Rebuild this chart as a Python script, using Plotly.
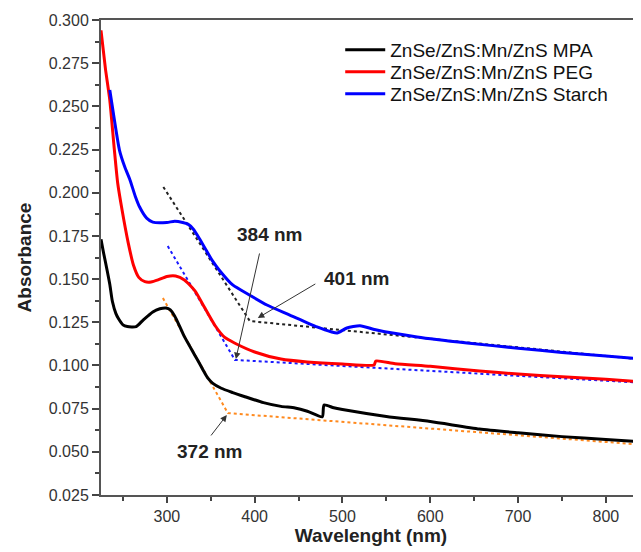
import plotly.graph_objects as go

# ---- data ----
mpa_x = [225, 228, 232, 235, 238, 242, 245, 250, 255, 265, 273, 284, 292, 299, 304, 309, 315, 320, 326, 332, 338, 343, 347, 352, 362, 375, 389, 410, 430, 446, 460, 477, 479, 490, 500, 550, 600, 656, 700, 750, 800, 840]
mpa_y = [0.173, 0.165, 0.155, 0.147, 0.137, 0.130, 0.127, 0.1235, 0.1225, 0.1225, 0.1263, 0.131, 0.1328, 0.1333, 0.1322, 0.1285, 0.1222, 0.1167, 0.1112, 0.1058, 0.1004, 0.0958, 0.0925, 0.0898, 0.0868, 0.0843, 0.0819, 0.0785, 0.0763, 0.0754, 0.0735, 0.0703, 0.0771, 0.0755, 0.0745, 0.0705, 0.0675, 0.0632, 0.061, 0.0588, 0.0572, 0.0558]

peg_x = [225, 230, 235, 240, 244, 249, 256, 262, 268, 275, 282, 290, 300, 310, 320, 332, 343, 355, 366, 377, 400, 430, 460, 500, 536, 538, 560, 600, 656, 700, 750, 800, 840]
peg_y = [0.294, 0.272, 0.2537, 0.226, 0.2056, 0.190, 0.171, 0.158, 0.151, 0.1485, 0.1483, 0.1495, 0.1515, 0.1518, 0.1495, 0.1432, 0.1335, 0.1230, 0.1162, 0.113, 0.1078, 0.1037, 0.102, 0.1008, 0.1003, 0.1026, 0.101, 0.0995, 0.0968, 0.095, 0.0935, 0.092, 0.0906]

starch_x = [235, 240, 246, 252, 258, 264, 269, 277, 284, 300, 309, 318, 324, 330, 337, 345, 352, 360, 375, 394, 414, 440, 471, 487, 494, 505, 520, 539, 585, 642, 700, 750, 800, 840]
starch_y = [0.2595, 0.243, 0.2247, 0.215, 0.2074, 0.198, 0.1917, 0.1853, 0.183, 0.1828, 0.1835, 0.1828, 0.1818, 0.1790, 0.1735, 0.1665, 0.1605, 0.1550, 0.1466, 0.1408, 0.135, 0.1292, 0.1223, 0.1195, 0.1188, 0.1217, 0.1230, 0.1205, 0.1165, 0.113, 0.110, 0.1075, 0.1055, 0.1037]

# tangent (band-edge) construction lines
tan_starch_x = [296, 394.5, 830]
tan_starch_y = [0.2033, 0.1257, 0.104]
tan_peg_x = [301, 377.5, 840]
tan_peg_y = [0.1691, 0.1032, 0.090]
tan_mpa_x = [295.5, 369.5, 831]
tan_mpa_y = [0.139, 0.0724, 0.0545]

series_names = ["ZnSe/ZnS:Mn/ZnS MPA", "ZnSe/ZnS:Mn/ZnS PEG", "ZnSe/ZnS:Mn/ZnS Starch"]

labels = ["384 nm", "401 nm", "372 nm"]
label_pos = [(417, 0.1761), (516, 0.1506), (349, 0.0499)]
arrow_tips = [(378.6, 0.1037), (403.6, 0.1275), (368.3, 0.0713)]
arrow_tails = [(405.9, 0.1657), (470.8, 0.1477), (349, 0.0586)]

x_ticks = [300, 400, 500, 600, 700, 800]
y_ticks = [0.025, 0.050, 0.075, 0.100, 0.125, 0.150, 0.175, 0.200, 0.225, 0.250, 0.275, 0.300]

FONT = "Arial, Liberation Sans, sans-serif"

fig = go.Figure()
fig.add_trace(go.Scatter(x=tan_starch_x, y=tan_starch_y, mode="lines",
                         line=dict(color="#222222", width=2, dash="dot"), showlegend=False))
fig.add_trace(go.Scatter(x=tan_peg_x, y=tan_peg_y, mode="lines",
                         line=dict(color="#1a1aff", width=2, dash="dot"), showlegend=False))
fig.add_trace(go.Scatter(x=tan_mpa_x, y=tan_mpa_y, mode="lines",
                         line=dict(color="#ff8a1f", width=2, dash="dot"), showlegend=False))

sm = dict(shape="spline", smoothing=0.6)
fig.add_trace(go.Scatter(x=mpa_x, y=mpa_y, mode="lines", name=series_names[0], legend="legend",
                         line=dict(color="#000000", width=3, **sm)))
fig.add_trace(go.Scatter(x=peg_x, y=peg_y, mode="lines", name=series_names[1], legend="legend2",
                         line=dict(color="#ff0000", width=3, **sm)))
fig.add_trace(go.Scatter(x=starch_x, y=starch_y, mode="lines", name=series_names[2], legend="legend3",
                         line=dict(color="#0000ff", width=3, **sm)))

for (t, (tx, ty)) in zip(labels, label_pos):
    fig.add_annotation(x=tx, y=ty, xref="x", yref="y", text="<b>%s</b>" % t, showarrow=False,
                       font=dict(family=FONT, size=19, color="#222222"))
for (hx, hy), (sx, sy) in zip(arrow_tips, arrow_tails):
    fig.add_annotation(x=hx, y=hy, ax=sx, ay=sy, xref="x", yref="y", axref="x", ayref="y",
                       text="", showarrow=True, arrowhead=2, arrowsize=1.3, arrowwidth=1,
                       arrowcolor="#333333")

leg_common = dict(x=0.443, xanchor="left", yanchor="middle", bgcolor="rgba(0,0,0,0)",
                  font=dict(family=FONT, size=19, color="#111111"), itemwidth=40)

# page has an 8px body margin, so the figure is sized to 633x544
fig.update_layout(
    width=633, height=544,
    margin=dict(l=93, r=0, t=12, b=57),
    paper_bgcolor="white", plot_bgcolor="white",
    font=dict(family=FONT, color="#333333"),
    legend=dict(y=0.9368, **leg_common),
    legend2=dict(y=0.8905, **leg_common),
    legend3=dict(y=0.8442, **leg_common),
)
fig.update_xaxes(range=[225, 840], tickvals=x_ticks, ticks="outside", ticklen=6, tickwidth=1.5,
                 tickcolor="#444444", showline=True, linecolor="#555555", linewidth=2, mirror=True,
                 showgrid=False, zeroline=False, tickfont=dict(size=16, color="#333333"),
                 minor=dict(dtick=50, ticks="outside", ticklen=4, tickcolor="#444444", tickwidth=1.5, showgrid=False),
                 title=dict(text="<b>Wavelenght (nm)</b>", font=dict(size=19, color="#222222"), standoff=1))
fig.update_yaxes(range=[0.025, 0.300], tickvals=y_ticks, tickformat=".3f", ticks="outside", ticklen=7,
                 tickwidth=1.5, tickcolor="#444444", showline=True, linecolor="#555555", linewidth=2,
                 showgrid=False, zeroline=False, tickfont=dict(size=16, color="#333333"),
                 minor=dict(dtick=0.0125, tick0=0.025, ticks="outside", ticklen=4, tickcolor="#444444", tickwidth=1.5, showgrid=False),
                 title=dict(text="<b>Absorbance</b>", font=dict(size=19, color="#222222"), standoff=12))

fig.write_html("out.html")
